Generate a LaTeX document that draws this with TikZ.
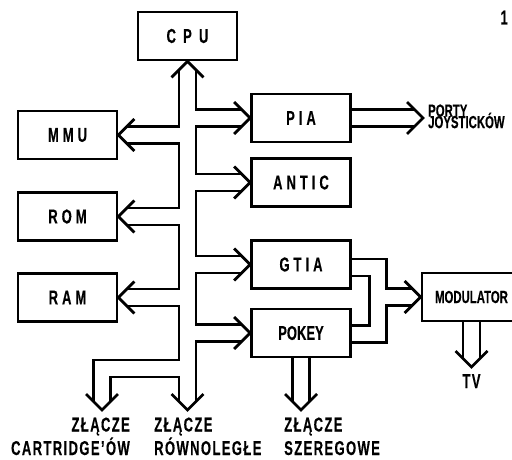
\documentclass[tikz,border=0pt]{standalone}
\usepackage{fontspec}
\setmainfont{Liberation Sans}[FakeStretch=0.65, FakeBold=0.3]
\usetikzlibrary{calc}

\begin{document}
\begin{tikzpicture}[
  x=10pt, y=10pt,
  box/.style={draw, line width=2.8pt, fill=white, minimum width=99pt,
              minimum height=48pt, inner sep=0pt,
              font={\fontsize{20}{22}\selectfont\bfseries\addfontfeature{LetterSpace=20}}},
  lbl/.style={inner sep=0pt,
              font={\fontsize{20}{22}\selectfont\bfseries\addfontfeature{LetterSpace=7}}},
  note/.style={inner sep=0pt, align=left,
               font={\fontsize{17.5}{11.5}\selectfont\bfseries\lineskiplimit=-100pt}},
  bus/.style={line width=2.8pt, double=white, double distance=14.2pt},
  vhead/.pic={\draw[line width=2.8pt] (-1.6,1.6) -- (0,0) -- (-1.6,-1.6);}
]
  \useasboundingbox (0,0) rectangle (51.2,45.9);
  \clip (0,0) rectangle (51.2,45.9);

  % bloki
  \node[box, font={\fontsize{20}{22}\selectfont\bfseries\addfontfeature{LetterSpace=36}}]
    (cpu) at (18.75,42.3) {CPU};
  \node[box] (mmu)   at (6.75,32.4)  {MMU};
  \node[box] (rom)   at (6.75,24.25) {ROM};
  \node[box] (ram)   at (6.75,16.15) {RAM};
  \node[box] (pia)   at (30.1,34.1)  {PIA};
  \node[box] (antic) at (30.1,27.65) {ANTIC};
  \node[box] (gtia)  at (30.1,19.45) {GTIA};
  \node[box, font={\fontsize{20}{22}\selectfont\bfseries}] (pokey) at (30.1,12.6) {POKEY};
  \node[box, font={\fontsize{17.5}{19}\selectfont\bfseries}] (modulator) at (47.15,16.2) {MODULATOR};

  \coordinate (cartTip)  at (10.2,4.9);
  \coordinate (parTip)   at (18.75,4.9);
  \coordinate (serTip)   at (30.1,4.9);
  \coordinate (tvTip)    at (47.15,9.2);
  \coordinate (portTip)  at (42.3,34.1);
  \coordinate (cartBend) at (10.2,9.05);
  \coordinate (mixJ)     at (37.8,16.2);

  % szyna danych
  \draw[bus] ($(cpu.south)+(0,-0.85)$) -- ($(parTip)+(0,0.85)$)
    (cpu.south |- mmu.east) -- ($(mmu.east)+(0.85,0)$)
    (cpu.south |- rom.east) -- ($(rom.east)+(0.85,0)$)
    (cpu.south |- ram.east) -- ($(ram.east)+(0.85,0)$)
    (cpu.south |- pia.west) -- ($(pia.west)+(-0.85,0)$)
    (cpu.south |- antic.west) -- ($(antic.west)+(-0.85,0)$)
    (cpu.south |- gtia.west) -- ($(gtia.west)+(-0.85,0)$)
    (cpu.south |- pokey.west) -- ($(pokey.west)+(-0.85,0)$)
    (cpu.south |- cartBend) -- (cartBend) -- ($(cartTip)+(0,0.85)$);
  % wyjscia
  \draw[bus] ($(gtia.east)+(0,-0.3)$) -| (mixJ) |- ($(pokey.east)+(0,-0.075)$)
    (mixJ) -- ($(modulator.west)+(-0.85,0)$);
  \draw[bus] (pia.east) -- ($(portTip)+(-0.85,0)$);
  \draw[bus] (pokey.south) -- ($(serTip)+(0,0.85)$);
  \draw[bus] (modulator.south) -- ($(tvTip)+(0,0.85)$);

  % groty
  \pic[rotate=90]  at (cpu.south) {vhead};
  \pic[rotate=180] at (mmu.east) {vhead};
  \pic[rotate=180] at (rom.east) {vhead};
  \pic[rotate=180] at (ram.east) {vhead};
  \pic at (pia.west) {vhead};
  \pic at (antic.west) {vhead};
  \pic at (gtia.west) {vhead};
  \pic at (pokey.west) {vhead};
  \pic at (portTip) {vhead};
  \pic at (modulator.west) {vhead};
  \pic[rotate=-90] at (cartTip) {vhead};
  \pic[rotate=-90] at (parTip) {vhead};
  \pic[rotate=-90] at (serTip) {vhead};
  \pic[rotate=-90] at (tvTip) {vhead};

  % opisy
  \node[note, anchor=north west] (porty) at (42.8,35.48) {PORTY\\JOYSTICKÓW};
  \node[lbl, anchor=base east] (zl1)  at (13.0,2.75) {ZŁĄCZE};
  \node[lbl, anchor=base east] (cart) at (13.0,0.4) {CARTRIDGE'ÓW};
  \node[lbl, anchor=base west] (zl2)  at (15.4,2.75) {ZŁĄCZE};
  \node[lbl, anchor=base west] (rown) at (15.4,0.4) {RÓWNOLEGŁE};
  \node[lbl, anchor=base west] (zl3)  at (28.4,2.75) {ZŁĄCZE};
  \node[lbl, anchor=base west] (szer) at (28.4,0.4) {SZEREGOWE};
  \node[lbl, anchor=base] (tv) at (47.15,7.1) {TV};
  \node[anchor=base east, inner sep=0pt, font={\fontsize{20}{22}\selectfont\bfseries}]
    (nr) at (50.8,43.45) {1};
\end{tikzpicture}
\end{document}
